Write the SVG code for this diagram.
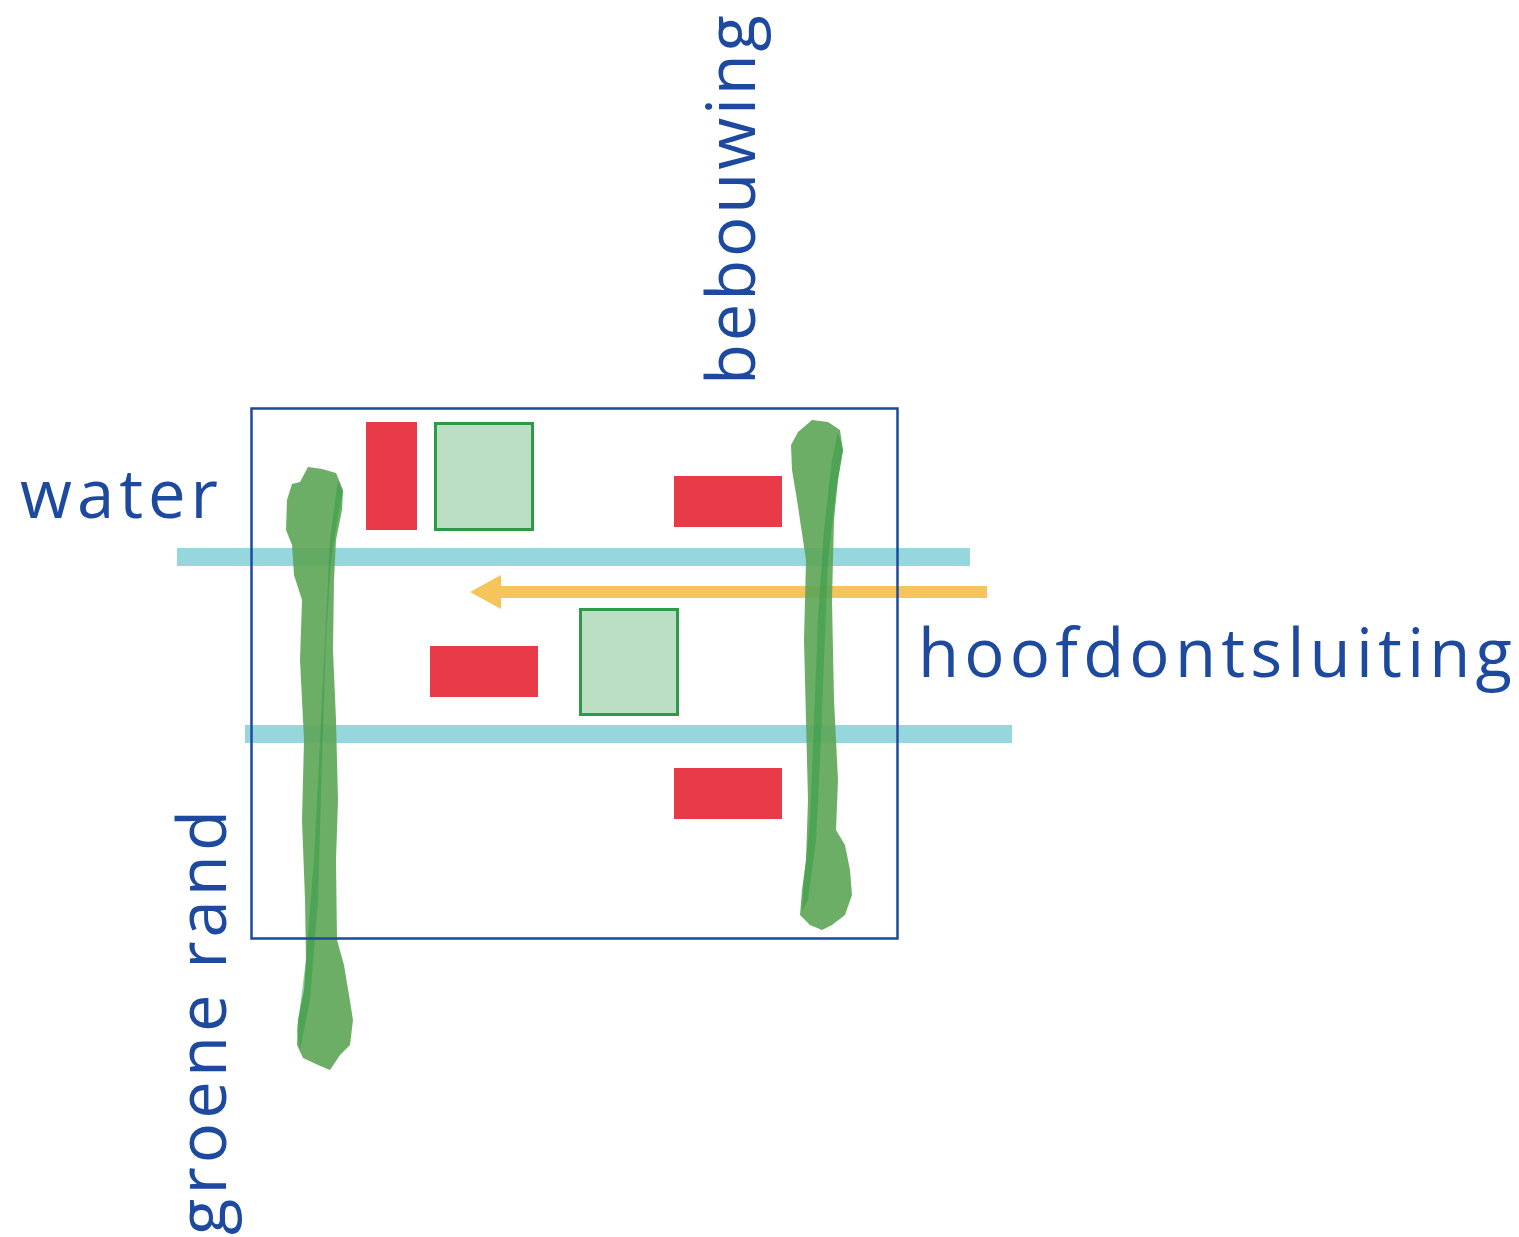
<svg xmlns="http://www.w3.org/2000/svg" width="1519" height="1237" viewBox="0 0 1519 1237">
<style>
.lbl{font-family:"Open Sans","Noto Sans","DejaVu Sans",sans-serif;font-size:67px;fill:#1d4a9e;}
.water{stroke:#96d7de;stroke-width:18;fill:none;}
.red{fill:#e93a47;}
.park{fill:#bbdfc2;stroke:#2e9a47;stroke-width:3;}
.green{fill:#5da556;fill-opacity:0.9;}
.greendark{fill:#2f9a44;fill-opacity:0.5;}
</style>
<rect width="1519" height="1237" fill="#ffffff"/>
<g id="water-lines">
<line class="water" x1="177" y1="557" x2="970" y2="557"/>
<line class="water" x1="245" y1="734" x2="1012" y2="734"/>
</g>
<g id="hoofdontsluiting-arrow">
<line x1="987" y1="592" x2="498" y2="592" stroke="#f5c45a" stroke-width="12"/>
<polygon points="470,592 501,575 501,609" fill="#f5c45a"/>
</g>
<g id="bebouwing-blocks">
<rect class="red" x="366" y="422" width="51" height="108"/>
<rect class="red" x="674" y="476" width="108" height="51"/>
<rect class="red" x="430" y="646" width="108" height="51"/>
<rect class="red" x="674" y="768" width="108" height="51"/>
</g>
<g id="groen-blocks">
<rect class="park" x="435.5" y="423.5" width="97" height="106"/>
<rect class="park" x="580.5" y="609.5" width="97" height="105"/>
</g>
<g id="groene-rand-left">
<path class="green" d="M308 467 L322 469 L336 473 L343 490 L342 510 L336 540 L334 580 L333 650 L336 720 L338 800 L336 860 L337 940 L344 965 L349 995 L353 1020 L350 1045 L340 1055 L330 1070 L318 1065 L303 1058 L297 1045 L298 1020 L304 990 L306 960 L305 900 L302 820 L304 740 L300 660 L302 600 L294 575 L292 545 L286 530 L287 500 L292 484 L300 482 Z"/>
<path class="greendark" d="M338 480 L343 492 L338 515 L331 560 L326 640 L322 760 L318 900 L310 1000 L300 1050 L297 1030 L306 960 L314 860 L320 740 L326 620 L330 540 Z"/>
</g>
<g id="groene-rand-right">
<path class="green" d="M812 420 L828 422 L840 430 L843 450 L838 480 L834 520 L832 600 L834 700 L838 780 L836 830 L845 845 L850 870 L852 895 L845 915 L832 925 L822 930 L810 925 L800 915 L802 890 L806 860 L808 800 L806 720 L804 640 L806 560 L800 520 L797 500 L792 470 L791 445 L798 432 Z"/>
<path class="greendark" d="M838 432 L843 450 L836 490 L828 560 L824 660 L820 760 L816 840 L808 900 L802 912 L804 880 L810 820 L814 720 L818 620 L824 530 L832 460 Z"/>
</g>
<g id="plangebied">
<rect x="251.5" y="408.5" width="646" height="530" fill="none" stroke="#1d4a9e" stroke-width="2.5"/>
</g>
<g id="labels">
<text class="lbl" x="20" y="518" textLength="198" lengthAdjust="spacing">water</text>
<text class="lbl" x="918" y="677" textLength="594" lengthAdjust="spacing">hoofdontsluiting</text>
<text class="lbl" transform="translate(755,385) rotate(-90)" x="0" y="0" textLength="370" lengthAdjust="spacing">bebouwing</text>
<text class="lbl" transform="translate(226,1235) rotate(-90)" x="0" y="0" textLength="425" lengthAdjust="spacing">groene rand</text>
</g>
</svg>
